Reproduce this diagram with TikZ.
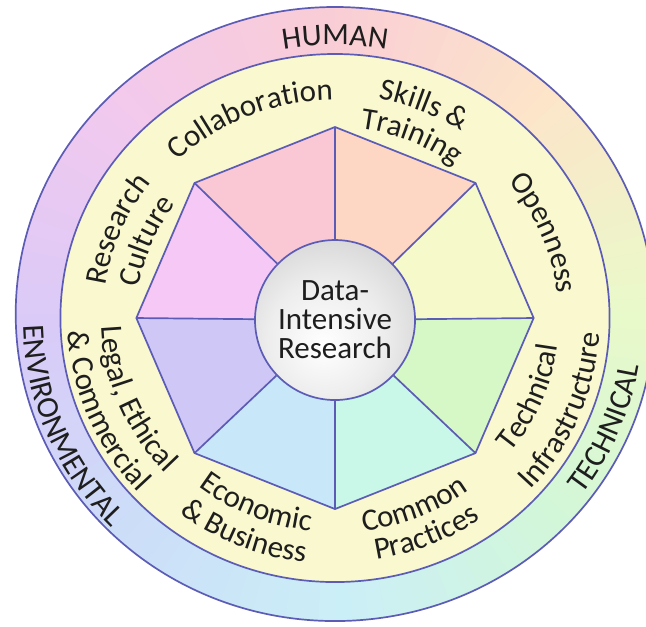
\documentclass[tikz,border=0pt]{standalone}
\usepackage{fontspec}
\setmainfont{Carlito}
\usetikzlibrary{decorations.text}

\definecolor{edge}{RGB}{92,92,182}
\definecolor{ink}{RGB}{30,30,30}
\definecolor{cream}{RGB}{249,248,206}
\definecolor{ra}{RGB}{234,249,201}
\definecolor{rb}{RGB}{252,229,201}
\definecolor{rc}{RGB}{249,205,214}
\definecolor{rd}{RGB}{242,201,238}
\definecolor{re}{RGB}{218,202,248}
\definecolor{rf}{RGB}{204,221,248}
\definecolor{rg}{RGB}{203,239,247}
\definecolor{rh}{RGB}{210,247,216}
\definecolor{sopen}{RGB}{246,250,203}
\definecolor{sskill}{RGB}{253,214,196}
\definecolor{scollab}{RGB}{250,200,212}
\definecolor{sculture}{RGB}{245,200,246}
\definecolor{slegal}{RGB}{207,200,246}
\definecolor{secon}{RGB}{200,232,250}
\definecolor{scommon}{RGB}{201,248,232}
\definecolor{stech}{RGB}{214,248,198}

\pgfdeclareradialshading{coreshade}{\pgfpoint{-4bp}{-8bp}}{color(0bp)=(white); color(18bp)=(black!7); color(38bp)=(black!20); color(50bp)=(black!30); color(70bp)=(black!30)}

\newcommand\lab{\fontsize{31}{31}\selectfont}
\newcommand\uplabel[3]{\path[decorate,decoration={text along path,text align=center,text color=ink,text={|\lab|#3}}]
  ({#1+50}:#2) arc[start angle={#1+50},end angle={#1-50},radius=#2];}
\newcommand\lowlabel[3]{\path[decorate,decoration={text along path,text align=center,text color=ink,text={|\lab|#3}}]
  ({#1-50}:#2) arc[start angle={#1-50},end angle={#1+50},radius=#2];}

\begin{document}
\begin{tikzpicture}
  [x=1.04pt,y=1pt,ln/.style={draw=edge,line width=1.7pt}]
  \useasboundingbox (-322.1,-308) rectangle (299,318);
  \foreach \ca/\cb [count=\k from 0] in {ra/rb,rb/rc,rc/rd,rd/re,re/rf,rf/rg,rg/rh,rh/ra}
    \foreach \t in {0,...,14}{
      \pgfmathtruncatemacro\mixpc{100*\t/15}
      \pgfmathsetmacro\ang{\k*45+3*\t}
      \colorlet{ringmix}{\cb!\mixpc!\ca}
      \fill[ringmix] (0,4) -- ++(\ang:307) arc[start angle=\ang,end angle=\ang+3.4,radius=307] -- cycle;
    }
  \draw[ln] (0,4) circle[radius=307];
  \fill[cream] (0,0) circle[radius=264];
  \draw[ln] (0,0) circle[radius=264];
  \foreach \i in {0,...,7}
    \coordinate (v\i) at (\i*45:191);
  \foreach \c [count=\i from 0] in {sopen,sskill,scollab,sculture,slegal,secon,scommon,stech}
    \fill[\c] (0,0) -- (\i*45:191) -- (\i*45+45:191) -- cycle;
  \draw[ln] (v0) -- (v1) -- (v2) -- (v3) -- (v4) -- (v5) -- (v6) -- (v7) -- cycle;
  \node (core) at (0,-2) [circle,ln,shading=coreshade,minimum size=160pt,inner sep=0pt,
    align=center,text=ink,font=\fontsize{31}{29}\selectfont] {Data-\\Intensive\\Research};
  \foreach \i in {0,...,7}
    \draw[ln] (v\i) -- (core);
  \uplabel{90}{273}{HUMAN}
  \lowlabel{-22.5}{296}{TECHNICAL}
  \lowlabel{202.5}{300}{ENVIRONMENTAL}
  \uplabel{112.5}{218}{Collaboration}
  \uplabel{67.5}{223}{Skills {\&}}
  \uplabel{67.5}{191}{Training}
  \uplabel{22.5}{215}{Openness}
  \uplabel{157.5}{223}{Research}
  \uplabel{157.5}{191}{Culture}
  \lowlabel{-22.5}{216}{Technical}
  \lowlabel{-22.5}{255}{Infrastructure}
  \lowlabel{-67.5}{215}{Common}
  \lowlabel{-67.5}{245}{Practices}
  \lowlabel{-112.5}{214}{Economic}
  \lowlabel{-112.5}{246}{{\&} Business}
  \lowlabel{202.5}{225}{Legal, Ethical}
  \lowlabel{202.5}{257}{{\&} Commercial}
\end{tikzpicture}
\end{document}
